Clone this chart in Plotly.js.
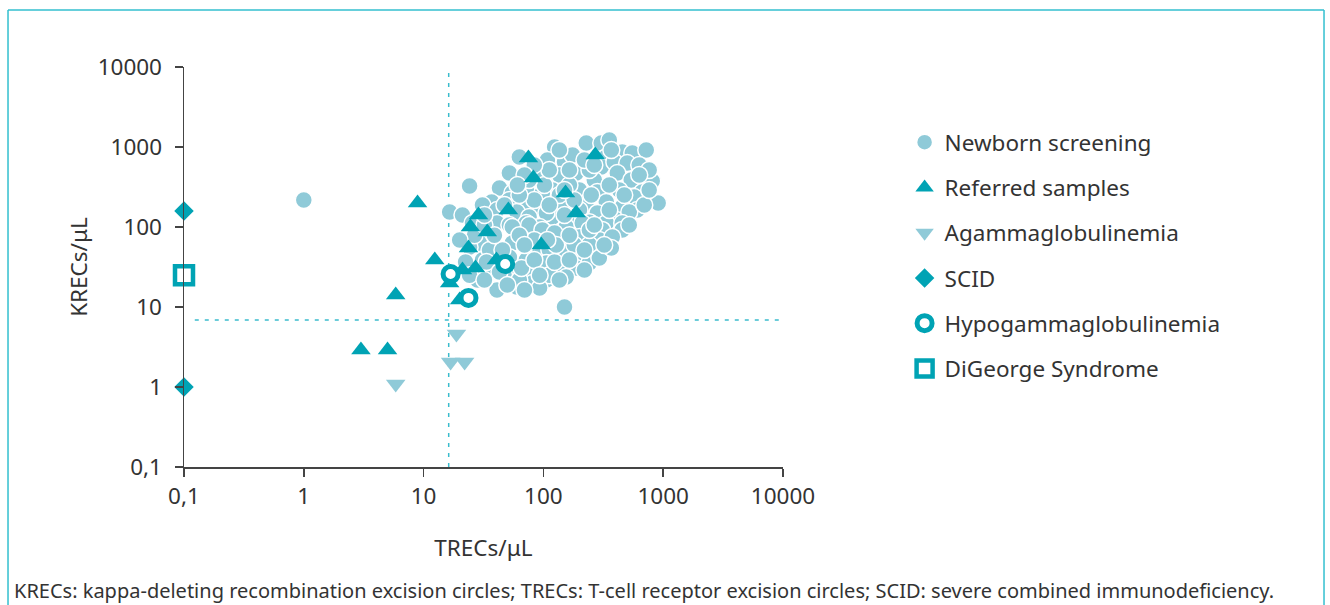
<!DOCTYPE html>
<html>
<head>
<meta charset="utf-8">
<script src="https://cdn.plot.ly/plotly-3.0.1.min.js"></script>
<style>html,body{margin:0;padding:0;background:#fff;}#chart{width:1330px;height:605px;}</style>
</head>
<body>
<div id="chart"></div>
<script>
// ---- Data (TRECs/µL on x, KRECs/µL on y) ----
const newbornX = [1.0,24.2,150,908,810,16.5,21.1,124,228,304,355,455,552,722,108,150,175,335,304,391,501,631,106,136,188,266,414,541,668,119,200,282,430,573,228,335,455,607,106,144,200,282,406,521,119,158,242,335,455,63,52,87,43,55,72,98,37,52,72,93,31,41,60,76,106,41,52,72,93,25.6,55,76,98,29.3,41,55,76,52,72,93,35.5,60,76,98,41,60,81,106,31,24.2,155,211,310,455,136,200,293,376,112,155,200,277,106,136,188,242,112,155,93,22.4,28.2,165,242,355,124,242,84,63,181,84,136,102,76,63,43,47,63,136,220,293,369,521,695,764,
  26.6,32.2,35.5,45.5,33.5,43,50,65.6,84,69.5,93,124,128,165,220,322,165,242,181,251,150,112,84,69.5,165,220,266,369,631,764,355,266,150,112,47.3,32.2,69.5,39,20,24.2,32.2,136,60.7,473,108];
const newbornY = [218,325,10,200,376,154,141,1000,1122,1122,1223,866,841,917,688,649,794,750,562,649,631,596,422,447,473,387,473,387,274,290,290,274,290,237,200,205,178,163,205,188,163,150,122,154,133,115,115,112,112,750,473,422,307,266,290,266,205,218,200,178,188,163,154,133,150,112,106,112,100,112,100,106,92,63,56,63,56,42,38.7,47,29,29,27.4,31.6,16.3,17.8,20,21.8,38.7,56,100,112,92,92,69,75,69,75,52,47,42,47,35.5,33.5,30.7,35.5,25,23.7,17.3,36.5,21.8,335,516,335,84,60,69,79,60,218,251,335,387,251,38.7,25,21.8,21.8,29,41,54.6,106,188,516,
  79,106,51.6,51.6,36.5,27.4,18.8,30.7,38.7,16.3,25,36.5,59.6,38.7,51.6,59.6,79,91.7,218,251,290,516,596,447,516,688,596,917,447,290,163,106,141,188,188,141,59.6,79,68.8,25,21.8,917,335,251,69];

const referredX = [3.0,5.0,5.85,8.9,12.4,16.5,20,21.1,27.1,23.7,24.6,28.7,34,40.6,51,75,82.5,96,153,188,271];
const referredY = [2.9,2.9,14.1,200,38.7,20,12.2,29,30.7,54.6,100,141,86.6,38.7,163,729,410,59.6,266,150,794];

const agammaX = [5.85,18.8,16.8,22];
const agammaY = [1.09,4.6,2.05,2.05];

const scidX = [0.1,0.1];
const scidY = [158,1.0];

const hypoX = [16.8,23.7,48];
const hypoY = [25.8,13,34.5];

const digeorgeX = [0.1];
const digeorgeY = [25];

const tickVals = [0.1,1,10,100,1000,10000];
const tickText = ['0,1','1','10','100','1000','10000'];
const cutoffTREC = 16.2;
const cutoffKREC = 6.9;

const seriesNames = ['Newborn screening','Referred samples','Agammaglobulinemia','SCID','Hypogammaglobulinemia','DiGeorge Syndrome'];
const captionText = 'KRECs: kappa-deleting recombination excision circles; TRECs: T-cell receptor excision circles; SCID: severe combined immunodeficiency.';

// ---- Styles ----
const light = '#8fcad8';
const teal = '#00a3b4';
const font = 'Noto Sans, Open Sans, sans-serif';
const textColor = '#333333';

const traces = [
  {x:newbornX, y:newbornY, name:seriesNames[0], legendgroup:'a', type:'scatter', mode:'markers', cliponaxis:false,
   marker:{symbol:'circle', size:17, color:light, line:{color:'#ffffff', width:1.5}}},
  {x:referredX, y:referredY, name:seriesNames[1], legendgroup:'b', type:'scatter', mode:'markers', cliponaxis:false,
   marker:{symbol:'triangle-up', size:17, color:teal, line:{width:0}}},
  {x:agammaX, y:agammaY, name:seriesNames[2], legendgroup:'c', type:'scatter', mode:'markers', cliponaxis:false,
   marker:{symbol:'triangle-down', size:17, color:light, line:{width:0}}},
  {x:scidX, y:scidY, name:seriesNames[3], legendgroup:'d', type:'scatter', mode:'markers', cliponaxis:false,
   marker:{symbol:'diamond', size:15, color:teal, line:{width:0}}},
  {x:hypoX, y:hypoY, name:seriesNames[4], legendgroup:'e', type:'scatter', mode:'markers', cliponaxis:false,
   marker:{symbol:'circle', size:15, color:'#ffffff', line:{color:teal, width:5}}},
  {x:digeorgeX, y:digeorgeY, name:seriesNames[5], legendgroup:'f', type:'scatter', mode:'markers', cliponaxis:false,
   marker:{symbol:'square', size:18, color:'#ffffff', line:{color:teal, width:4.5}}}
];

const axisCommon = {
  type:'log', showgrid:false, zeroline:false, showline:true, linecolor:'#444444', linewidth:1.5,
  ticks:'outside', ticklen:8, tickwidth:1.5, tickcolor:'#444444',
  tickvals:tickVals, ticktext:tickText, tickfont:{family:font, size:22.5, color:textColor}
};

const borderColor = '#33bfcf';
const layout = {
  width:1330, height:605,
  margin:{l:184, r:547, t:67, b:138},
  paper_bgcolor:'#ffffff', plot_bgcolor:'#ffffff',
  font:{family:font, color:textColor},
  showlegend:true,
  legend:{x:1.203, xanchor:'left', y:0.865, yanchor:'top', font:{family:font, size:22.5, color:textColor},
          tracegroupgap:13, traceorder:'grouped', bgcolor:'rgba(0,0,0,0)'},
  xaxis:Object.assign({}, axisCommon, {range:[-1,4], title:{text:'TRECs/μL', font:{family:font, size:22.5, color:textColor}, standoff:30}}),
  yaxis:Object.assign({}, axisCommon, {range:[-1,4], ticklabelstandoff:8, title:{text:'KRECs/μL', font:{family:font, size:22.5, color:textColor}, standoff:4}}),
  shapes:[
    {type:'line', xref:'x', yref:'paper', x0:cutoffTREC, x1:cutoffTREC, y0:0, y1:1, layer:'below',
     line:{color:'#3bbccd', width:1.5, dash:'4px,6px'}},
    {type:'line', xref:'x', yref:'y', x0:0.123, x1:10000, y0:cutoffKREC, y1:cutoffKREC, layer:'below',
     line:{color:'#3bbccd', width:1.5, dash:'4px,6px'}},
    {type:'line', xref:'paper', yref:'paper', x0:-0.2938, x1:-0.2938, y0:1.1425, y1:-0.36, line:{color:borderColor, width:1.5}},
    {type:'line', xref:'paper', yref:'paper', x0:-0.2938, x1:1.9032, y0:1.1425, y1:1.1425, line:{color:borderColor, width:1.5}},
    {type:'line', xref:'paper', yref:'paper', x0:1.9032, x1:1.9032, y0:1.1425, y1:-0.36, line:{color:borderColor, width:1.5}}
  ],
  annotations:[
    {text:captionText, xref:'paper', yref:'paper', x:-0.2871, xanchor:'left', y:-0.3075, yanchor:'middle',
     showarrow:false, font:{family:font, size:20, color:textColor}}
  ]
};

Plotly.newPlot('chart', traces, layout, {displayModeBar:false, staticPlot:true});
</script>
</body>
</html>
